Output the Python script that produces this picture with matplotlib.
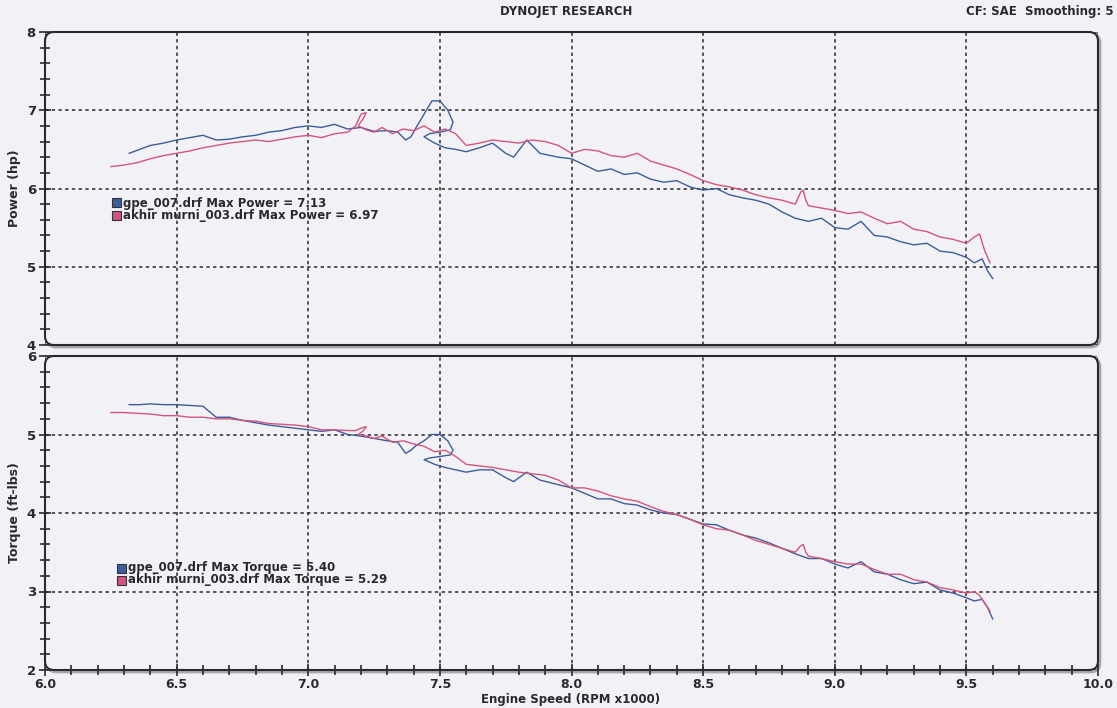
import matplotlib
matplotlib.use("Agg")
import matplotlib.pyplot as plt
from matplotlib.patches import FancyBboxPatch, Rectangle
from matplotlib.ticker import MultipleLocator

# ---------------- data ----------------
rpm_gpe = [6.32,6.36,6.40,6.45,6.50,6.55,6.60,6.65,6.70,6.75,6.80,6.85,6.90,6.95,7.00,7.05,7.10,7.15,7.20,7.25,
           7.30,7.34,7.37,7.39,7.41,7.44,7.47,7.50,7.53,7.55,7.54,7.50,7.46,7.44,7.48,7.52,7.56,7.60,7.65,7.70,
           7.75,7.78,7.83,7.88,7.95,8.00,8.05,8.10,8.15,8.20,8.25,8.30,8.35,8.40,8.45,8.50,8.55,8.60,8.65,8.70,
           8.75,8.80,8.85,8.90,8.95,9.00,9.05,9.10,9.15,9.20,9.25,9.30,9.35,9.40,9.45,9.50,9.53,9.56,9.58,9.60]
power_gpe = [6.45,6.50,6.55,6.58,6.62,6.65,6.68,6.62,6.63,6.66,6.68,6.72,6.74,6.78,6.80,6.78,6.82,6.76,6.78,6.73,
             6.74,6.72,6.62,6.66,6.78,6.95,7.12,7.12,7.00,6.85,6.75,6.72,6.70,6.66,6.58,6.52,6.50,6.47,6.52,6.58,
             6.45,6.40,6.62,6.45,6.40,6.38,6.30,6.22,6.25,6.18,6.20,6.12,6.08,6.10,6.02,5.98,6.00,5.92,5.88,5.85,
             5.80,5.70,5.62,5.58,5.62,5.50,5.48,5.58,5.40,5.38,5.32,5.28,5.30,5.20,5.18,5.12,5.05,5.10,4.95,4.85]
torque_gpe = [5.38,5.38,5.39,5.38,5.38,5.37,5.36,5.22,5.22,5.18,5.15,5.12,5.10,5.08,5.06,5.04,5.06,5.00,4.98,4.95,
              4.92,4.90,4.76,4.80,4.86,4.92,5.00,5.00,4.92,4.80,4.74,4.72,4.70,4.68,4.62,4.58,4.55,4.52,4.55,4.55,
              4.45,4.40,4.52,4.42,4.36,4.32,4.25,4.18,4.18,4.12,4.10,4.04,4.00,3.98,3.92,3.86,3.85,3.78,3.72,3.68,
              3.62,3.55,3.48,3.42,3.42,3.35,3.30,3.38,3.25,3.22,3.15,3.10,3.12,3.02,2.98,2.92,2.88,2.90,2.80,2.65]

rpm_akhir = [6.25,6.30,6.35,6.40,6.45,6.50,6.55,6.60,6.65,6.70,6.75,6.80,6.85,6.90,6.95,7.00,7.05,7.10,7.15,7.18,
             7.20,7.22,7.21,7.19,7.22,7.25,7.28,7.32,7.36,7.40,7.44,7.48,7.52,7.56,7.60,7.65,7.70,7.75,7.80,7.85,
             7.90,7.95,8.00,8.05,8.10,8.15,8.20,8.25,8.30,8.35,8.40,8.45,8.50,8.55,8.60,8.65,8.70,8.75,8.80,8.85,
             8.87,8.88,8.89,8.90,8.95,9.00,9.05,9.10,9.15,9.20,9.25,9.30,9.35,9.40,9.45,9.50,9.53,9.55,9.57,9.59]
power_akhir = [6.28,6.30,6.33,6.38,6.42,6.45,6.48,6.52,6.55,6.58,6.60,6.62,6.60,6.63,6.66,6.68,6.65,6.70,6.72,6.80,
               6.95,6.97,6.90,6.80,6.75,6.72,6.78,6.70,6.76,6.74,6.80,6.72,6.76,6.70,6.55,6.58,6.62,6.60,6.58,6.62,
               6.60,6.55,6.45,6.50,6.48,6.42,6.40,6.45,6.35,6.30,6.25,6.18,6.10,6.05,6.02,5.98,5.92,5.88,5.85,5.80,
               5.95,5.98,5.85,5.78,5.75,5.72,5.68,5.70,5.62,5.55,5.58,5.48,5.45,5.38,5.35,5.30,5.38,5.42,5.20,5.05]
torque_akhir = [5.28,5.28,5.27,5.26,5.24,5.24,5.22,5.22,5.20,5.20,5.18,5.17,5.14,5.13,5.12,5.10,5.06,5.06,5.05,5.05,
                5.08,5.10,5.05,5.00,4.98,4.95,4.98,4.90,4.92,4.88,4.85,4.78,4.80,4.72,4.62,4.60,4.58,4.55,4.52,4.50,
                4.48,4.42,4.32,4.32,4.28,4.22,4.18,4.15,4.08,4.02,3.98,3.92,3.85,3.80,3.78,3.72,3.65,3.60,3.55,3.50,
                3.58,3.60,3.50,3.45,3.42,3.38,3.35,3.35,3.28,3.22,3.22,3.15,3.12,3.05,3.02,2.98,3.00,2.95,2.85,2.75]

power_legend = ["gpe_007.drf Max Power = 7.13", "akhir murni_003.drf Max Power = 6.97"]
torque_legend = ["gpe_007.drf Max Torque = 5.40", "akhir murni_003.drf Max Torque = 5.29"]
x_ticks = [6.0, 6.5, 7.0, 7.5, 8.0, 8.5, 9.0, 9.5, 10.0]
x_ticklabels = ["6.0", "6.5", "7.0", "7.5", "8.0", "8.5", "9.0", "9.5", "10.0"]

# ---------------- style ----------------
W, H = 1117, 708
BG = "#f1f1f6"
BLUE = "#3d5d99"
RED = "#d4557c"
INK = "#2a2a2e"
plt.rcParams['font.family'] = ['DejaVu Sans']

fig = plt.figure(figsize=(W / 100, H / 100), dpi=100, facecolor=BG)

def fx(px):
    return px / W

def fy(py):
    return 1 - py / H

L, R = 45, 1098
ax1 = fig.add_axes([fx(L), fy(345), fx(R - L), (345 - 32) / H])
ax2 = fig.add_axes([fx(L), fy(670), fx(R - L), (670 - 356) / H])

for ax, ylim, lab in [(ax1, (4, 8), "Power (hp)"), (ax2, (2, 6), "Torque (ft-lbs)")]:
    ax.set_facecolor(BG)
    ax.set_xlim(6, 10)
    ax.set_ylim(*ylim)
    for s in ax.spines.values():
        s.set_visible(False)
    ax.xaxis.set_major_locator(MultipleLocator(0.5))
    ax.yaxis.set_major_locator(MultipleLocator(1))
    ax.yaxis.set_minor_locator(MultipleLocator(0.2))
    ax.grid(which="major", linestyle=(0, (2.2, 2.2)), color=INK, lw=1.1)
    ax.tick_params(axis="y", which="major", direction="inout", length=9, width=1.2,
                   color=INK, labelsize=9.5, pad=2)
    ax.tick_params(axis="y", which="minor", direction="inout", length=7, width=1.2, color=INK)
    for t in ax.get_yticklabels():
        t.set_fontweight("bold")
        t.set_color(INK)
    ax.set_ylabel(lab, fontsize=9, fontweight="bold", color=INK, labelpad=4)
    # rounded frame with soft shadow
    x0, y0 = fx(L), ax.get_position().y0
    w, h = fx(R - L), ax.get_position().height
    shadow = FancyBboxPatch((x0 + 2 / W, y0 - 2 / H), w, h,
                            boxstyle="round,pad=0,rounding_size=%f" % (9 / W),
                            mutation_aspect=W / H, transform=fig.transFigure,
                            facecolor="none", edgecolor="#a8a8b2", lw=2.0, zorder=0)
    frame = FancyBboxPatch((x0, y0), w, h,
                           boxstyle="round,pad=0,rounding_size=%f" % (9 / W),
                           mutation_aspect=W / H, transform=fig.transFigure,
                           facecolor="none", edgecolor=INK, lw=1.5, zorder=5)
    fig.add_artist(shadow)
    fig.add_artist(frame)

ax1.tick_params(axis="x", which="both", length=0, labelbottom=False)
ax2.xaxis.set_minor_locator(MultipleLocator(0.1))
ax2.set_xticks(x_ticks)
ax2.set_xticklabels(x_ticklabels, fontsize=9, fontweight="bold", color=INK)
ax2.tick_params(axis="x", which="major", direction="inout", length=8, width=1.2, color=INK, pad=2)
ax2.tick_params(axis="x", which="minor", direction="inout", length=7, width=1.2, color=INK)

ax1.plot(rpm_gpe, power_gpe, color=BLUE, lw=1.0, zorder=3)
ax1.plot(rpm_akhir, power_akhir, color=RED, lw=1.0, zorder=3)
ax2.plot(rpm_gpe, torque_gpe, color=BLUE, lw=1.0, zorder=3)
ax2.plot(rpm_akhir, torque_akhir, color=RED, lw=1.0, zorder=3)

# legend blocks
def legend_block(labels, sq_x, y_first):
    for i, (txt, col) in enumerate(zip(labels, [BLUE, RED])):
        yc = y_first + i * 12
        fig.add_artist(Rectangle((fx(sq_x), fy(yc + 4.5)), 9 / W, 9 / H,
                                 transform=fig.transFigure, facecolor=col,
                                 edgecolor="#303040", lw=0.8, zorder=6))
        fig.text(fx(sq_x + 11), fy(yc), txt, fontsize=8.5, fontweight="bold",
                 color=INK, va="center", ha="left", zorder=6)

legend_block(power_legend, 112, 203)
legend_block(torque_legend, 117, 568)

fig.text(fx(566), fy(11), "DYNOJET RESEARCH", fontsize=8.5, fontweight="bold",
         color=INK, ha="center", va="center")
fig.text(fx(1114), fy(11), "CF: SAE  Smoothing: 5", fontsize=8.5, fontweight="bold",
         color=INK, ha="right", va="center")
fig.text(fx(571), fy(700), "Engine Speed (RPM x1000)", fontsize=8.5, fontweight="bold",
         color=INK, ha="center", va="center")

fig.savefig("out.png", dpi=100, facecolor=BG)
